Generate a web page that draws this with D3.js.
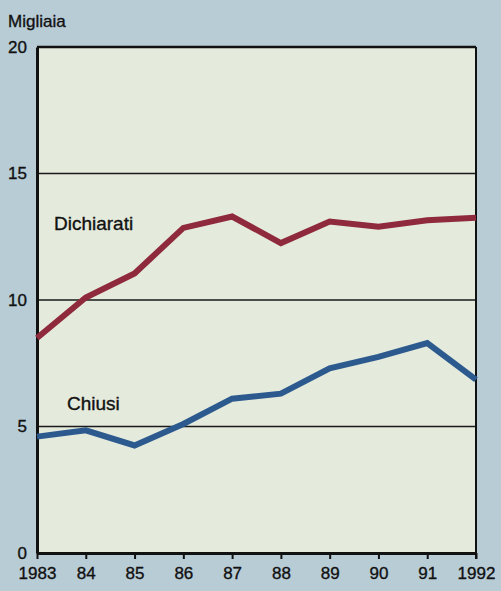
<!DOCTYPE html>
<html><head><meta charset="utf-8">
<script src="https://cdn.jsdelivr.net/npm/d3@7"></script>
<style>
body{margin:0;background:#b8ccd6;}
svg{display:block;}
text{font-family:"Liberation Sans",Arial,sans-serif;fill:#111;stroke:#111;stroke-width:0.35px;}
</style></head><body>
<script>
const years = [1983,1984,1985,1986,1987,1988,1989,1990,1991,1992];
const yearLabels = ["1983","84","85","86","87","88","89","90","91","1992"];
const dichiarati = [8.5,10.1,11.05,12.85,13.3,12.25,13.1,12.9,13.15,13.25];
const chiusi = [4.6,4.85,4.25,5.1,6.1,6.3,7.3,7.75,8.3,6.85];
const yTicks = [0,5,10,15,20];

const W=501,H=591;
const m={l:37,r:25,t:47,b:38};
const svg=d3.select("body").append("svg").attr("width",W).attr("height",H);
svg.append("rect").attr("width",W).attr("height",H).attr("fill","#b8ccd6");

const x=d3.scaleLinear().domain([1983,1992]).range([m.l,W-m.r]);
const y=d3.scaleLinear().domain([0,20]).range([H-m.b,m.t]);

svg.append("rect").attr("x",x(1983)).attr("y",y(20)).attr("width",x(1992)-x(1983)).attr("height",y(0)-y(20)).attr("fill","#e4eadc");

// gridlines
svg.append("g").selectAll("line").data([5,10,15]).join("line")
  .attr("x1",x(1983)).attr("x2",x(1992)).attr("y1",d=>y(d)).attr("y2",d=>y(d))
  .attr("stroke","#1a1a1a").attr("stroke-width",1.5);

// frame
svg.append("line").attr("x1",x(1983)).attr("x2",x(1992)).attr("y1",y(20)).attr("y2",y(20)).attr("stroke","#111").attr("stroke-width",2.5);
svg.append("line").attr("x1",x(1992)).attr("x2",x(1992)).attr("y1",y(20)).attr("y2",y(0)+6).attr("stroke","#111").attr("stroke-width",2);

// y axis
const ya=svg.append("g").attr("transform",`translate(${x(1983)},0)`).call(d3.axisLeft(y).tickValues(yTicks).tickSize(0).tickPadding(10));
ya.select(".domain").attr("stroke","#111").attr("stroke-width",3);
ya.selectAll("text").style("font-size","17px").style("font-family","Liberation Sans, Arial, sans-serif").attr("fill","#111");

// x axis
const xa=svg.append("g").attr("transform",`translate(0,${y(0)})`).call(d3.axisBottom(x).tickValues(years).tickFormat((d,i)=>yearLabels[i]).tickSize(6).tickPadding(8).tickSizeOuter(0));
xa.select(".domain").attr("stroke","#111").attr("stroke-width",3);
xa.selectAll(".tick line").attr("stroke","#111").attr("stroke-width",2);
xa.selectAll("text").style("font-size","17px").style("font-family","Liberation Sans, Arial, sans-serif").attr("fill","#111");

const line=d3.line().x((d,i)=>x(years[i])).y(d=>y(d));
svg.append("path").datum(dichiarati).attr("d",line).attr("fill","none").attr("stroke","#8e2a3c").attr("stroke-width",6).attr("stroke-linejoin","miter");
svg.append("path").datum(chiusi).attr("d",line).attr("fill","none").attr("stroke","#2d5a8e").attr("stroke-width",6).attr("stroke-linejoin","miter");

svg.append("text").attr("x",8).attr("y",27).style("font-size","17px").text("Migliaia");
svg.append("text").attr("x",54).attr("y",230).style("font-size","19px").text("Dichiarati");
svg.append("text").attr("x",67).attr("y",410).style("font-size","19px").text("Chiusi");
</script></body></html>
